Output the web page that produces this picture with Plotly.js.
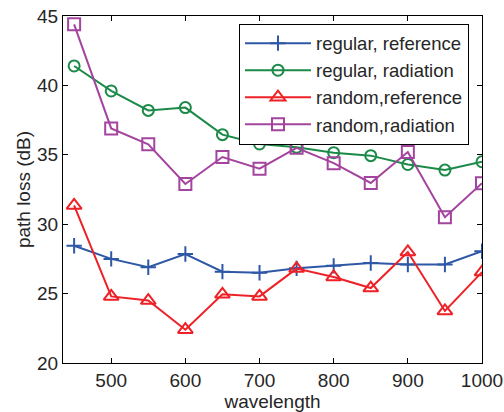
<!DOCTYPE html>
<html><head><meta charset="utf-8">
<script src="https://cdn.plot.ly/plotly-3.0.1.min.js"></script>
<style>html,body{margin:0;padding:0;background:#fff}#plot{width:504px;height:412px}</style>
</head><body><div id="plot"></div>
<script>
const wavelength = [450, 500, 550, 600, 650, 700, 750, 800, 850, 900, 950, 1000];
const regularReference = [28.45, 27.5, 26.9, 27.85, 26.58, 26.5, 26.82, 27.0, 27.2, 27.1, 27.1, 28.05];
const regularRadiation = [41.4, 39.6, 38.2, 38.4, 36.45, 35.78, 35.54, 35.15, 34.94, 34.3, 33.9, 34.5];
const randomReference = [31.35, 24.8, 24.5, 22.4, 24.95, 24.8, 26.8, 26.2, 25.4, 28.0, 23.75, 26.55];
const randomRadiation = [44.4, 36.9, 35.76, 32.9, 34.84, 34.0, 35.5, 34.4, 32.97, 35.2, 30.5, 32.95];
const names = ['regular, reference', 'regular, radiation', 'random,reference', 'random,radiation'];
const colors = ['#2e58a6', '#1b8a48', '#ee2127', '#a3449f'];
const symbols = ['cross-thin-open', 'circle-open', 'triangle-up-open', 'square-open'];
const sizes = [11, 11, 13, 12];
const series = [regularReference, regularRadiation, randomReference, randomRadiation];

const traces = series.map((y, i) => ({
  x: wavelength, y: y, name: names[i], type: 'scatter', mode: 'lines+markers',
  line: {color: colors[i], width: 2},
  marker: {symbol: symbols[i], size: sizes[i], color: colors[i], line: {color: colors[i], width: 2}}
}));

const FONT = 'Liberation Sans, Arial, sans-serif';
const axisCommon = {
  showline: true, linecolor: '#000', linewidth: 1, mirror: 'ticks',
  ticks: 'inside', ticklen: 5, tickcolor: '#000', showgrid: false, zeroline: false,
  tickfont: {family: FONT, size: 19, color: '#262626'}
};

const layout = {
  width: 504, height: 412,
  margin: {l: 63, r: 22, t: 16, b: 49},
  paper_bgcolor: '#fff', plot_bgcolor: '#fff',
  font: {family: FONT, color: '#262626'},
  showlegend: true,
  legend: {
    x: 0.42, y: 0.978, xanchor: 'left', yanchor: 'top',
    bgcolor: '#fff', bordercolor: '#000', borderwidth: 1,
    font: {size: 18.5, color: '#262626'}, itemwidth: 66, tracegroupgap: 0
  },
  xaxis: Object.assign({}, axisCommon, {
    range: [435, 1000], tickvals: [500, 600, 700, 800, 900, 1000],
    title: {text: 'wavelength', font: {size: 19, color: '#262626'}, standoff: 0}
  }),
  yaxis: Object.assign({}, axisCommon, {
    range: [20, 45], tickvals: [20, 25, 30, 35, 40, 45],
    title: {text: 'path loss (dB)', font: {size: 19, color: '#262626'}, standoff: 1}
  })
};

Plotly.newPlot('plot', traces, layout, {displayModeBar: false, staticPlot: true});
</script></body></html>
